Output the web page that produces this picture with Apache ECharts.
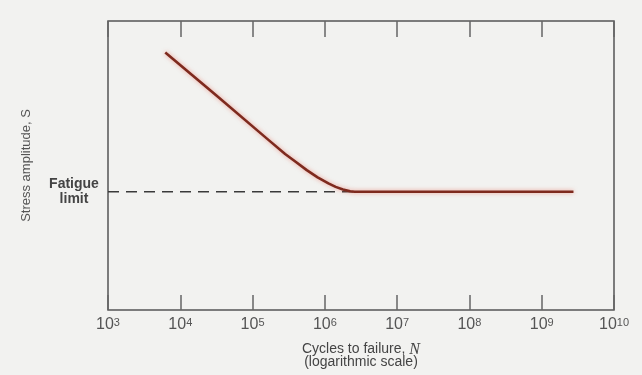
<!DOCTYPE html>
<html>
<head>
<meta charset="utf-8">
<script src="https://cdn.jsdelivr.net/npm/echarts@6/dist/echarts.min.js"></script>
<style>
  html, body { margin: 0; padding: 0; background: #f2f2f0; }
  #chart { width: 642px; height: 375px; }
</style>
</head>
<body>
<div id="chart"></div>
<script>
// S-N curve, values (stress in arbitrary units 0-100)
var cycles = [6200, 31600, 158000, 282000, 398000, 562000, 794000, 1120000, 1410000, 1780000, 2240000, 2570000, 2750000000];
var stress = [89.1, 74.2, 59.3, 54.0, 51.2, 48.4, 45.9, 43.8, 42.6, 41.7, 41.1, 40.9, 40.9];
var fatigueLimit = 40.9;
var limitFrom = 1000, limitTo = 2570000;

var curveData = [];
for (var i = 0; i < cycles.length; i++) {
    curveData.push([cycles[i], stress[i]]);
}

var chart = echarts.init(document.getElementById('chart'));
var fontFam = '"Liberation Sans", Arial, sans-serif';

var option = {
    backgroundColor: '#f2f2f0',
    animation: false,
    grid: {
        left: 108, right: 28, top: 21, bottom: 65,
        show: true,
        borderColor: '#555',
        borderWidth: 1.5,
        backgroundColor: 'transparent'
    },
    xAxis: [
        {
            type: 'log',
            logBase: 10,
            min: 1e3,
            max: 1e10,
            position: 'bottom',
            axisLine: { show: false },
            axisTick: {
                show: true, inside: true, length: 15,
                lineStyle: { color: '#666', width: 1.5 }
            },
            splitLine: { show: false },
            axisLabel: {
                margin: 7,
                color: '#555',
                fontFamily: fontFam,
                fontSize: 16,
                formatter: function (v) {
                    var e = Math.round(Math.log(v) / Math.LN10);
                    return '10{sup|' + e + '}';
                },
                rich: {
                    sup: { fontSize: 11, verticalAlign: 'top', color: '#555', fontFamily: fontFam }
                }
            },
            name: '{t|Cycles to failure, }{n|N}\n{t|(logarithmic scale)}',
            nameLocation: 'middle',
            nameGap: 33,
            nameTextStyle: {
                color: '#444',
                rich: {
                    t: { fontSize: 14, fontFamily: fontFam, color: '#444', lineHeight: 13 },
                    n: { fontSize: 16, fontFamily: '"Liberation Serif", serif', fontStyle: 'italic', color: '#444', lineHeight: 13 }
                }
            }
        },
        {
            type: 'log',
            logBase: 10,
            min: 1e3,
            max: 1e10,
            position: 'top',
            axisLine: { show: false },
            axisTick: {
                show: true, inside: true, length: 16,
                lineStyle: { color: '#666', width: 1.5 }
            },
            axisLabel: { show: false },
            splitLine: { show: false }
        }
    ],
    yAxis: {
        type: 'value',
        min: 0,
        max: 100,
        axisLine: { show: false },
        axisTick: { show: false },
        splitLine: { show: false },
        axisLabel: {
            customValues: [fatigueLimit],
            margin: 4,
            formatter: function () { return '{a|Fatigue}\n{a|limit}'; },
            rich: {
                a: {
                    width: 60, align: 'center', fontSize: 14, lineHeight: 15,
                    fontFamily: fontFam, color: '#444', fontWeight: 'bold'
                }
            }
        },
        name: 'Stress amplitude, S',
        nameLocation: 'middle',
        nameGap: 74,
        nameTextStyle: { fontSize: 13, fontFamily: fontFam, color: '#555' }
    },
    series: [
        {
            type: 'line',
            data: [[limitFrom, fatigueLimit], [limitTo, fatigueLimit]],
            symbol: 'none',
            lineStyle: { color: '#3a3a3a', width: 1.5, type: [11, 7] },
            z: 2
        },
        {
            type: 'line',
            data: curveData,
            symbol: 'none',
            lineStyle: {
                color: '#7e2a1e', width: 2.6, join: 'round',
                shadowColor: 'rgba(230,90,70,0.55)', shadowBlur: 4
            },
            z: 3
        }
    ]
};
chart.setOption(option);
</script>
</body>
</html>
